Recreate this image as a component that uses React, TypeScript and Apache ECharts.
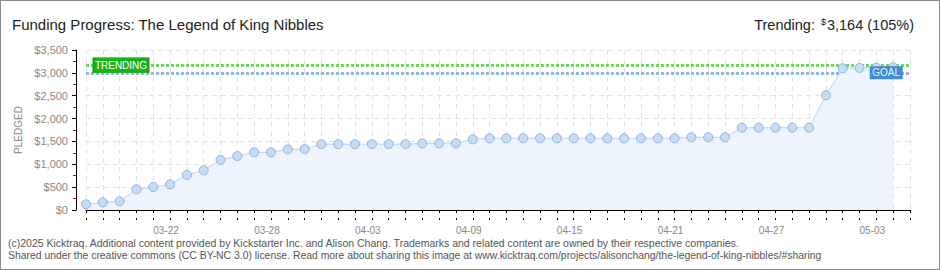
import React, { useEffect, useRef } from "react";
import * as echarts from "echarts";

const dates: string[] = [
  "03-18","03-19","03-20","03-21","03-22","03-23","03-24","03-25","03-26","03-27",
  "03-28","03-29","03-30","03-31","04-01","04-02","04-03","04-04","04-05","04-06",
  "04-07","04-08","04-09","04-10","04-11","04-12","04-13","04-14","04-15","04-16",
  "04-17","04-18","04-19","04-20","04-21","04-22","04-23","04-24","04-25","04-26",
  "04-27","04-28","04-29","04-30","05-01","05-02","05-03","05-04","05-05","05-06",
];

const pledged: number[] = [
  125, 168, 190, 452, 503, 561, 766, 868, 1094, 1181,
  1261, 1261, 1327, 1330, 1440, 1440, 1440, 1440, 1440, 1440,
  1458, 1458, 1458, 1546, 1568, 1568, 1568, 1568, 1568, 1568,
  1568, 1568, 1568, 1568, 1568, 1568, 1590, 1590, 1590, 1801,
  1801, 1801, 1801, 1801, 2509, 3100, 3108, 3114, 3120,
];

const goal = 3000;
const trending = 3164;
const trendingPct = 105;
const yTicks: number[] = [0, 500, 1000, 1500, 2000, 2500, 3000, 3500];

const titleText = "Funding Progress: The Legend of King Nibbles";
const footer1 =
  "(c)2025 Kicktraq. Additional content provided by Kickstarter Inc. and Alison Chang. Trademarks and related content are owned by their respective companies.";
const footer2 =
  "Shared under the creative commons (CC BY-NC 3.0) license. Read more about sharing this image at www.kicktraq.com/projects/alisonchang/the-legend-of-king-nibbles/#sharing";

const FONT = "'Liberation Sans', 'DejaVu Sans', sans-serif";

export default function App() {
  const ref = useRef<HTMLDivElement>(null);

  useEffect(() => {
    if (!ref.current) return;
    const chart = echarts.init(ref.current, undefined, { renderer: "svg" });
    const fmtMoney = (v: number) => "$" + v.toLocaleString("en-US");
    chart.setOption({
      animation: false,
      backgroundColor: "#ffffff",
      textStyle: { fontFamily: FONT },
      title: [
        {
          text: titleText,
          left: 7,
          top: 12,
          textStyle: { fontSize: 15, fontWeight: "normal", color: "#222", fontFamily: FONT },
        },
        {
          text: "{a|Trending: }{s|$}{a|" + trending.toLocaleString("en-US") + " (" + trendingPct + "%)}",
          right: 21,
          top: 12,
          textStyle: {
            fontFamily: FONT,
            fontWeight: "normal",
            rich: {
              a: { fontSize: 14.5, color: "#222", fontFamily: FONT, fontWeight: "normal" },
              s: { fontSize: 9, color: "#222", fontFamily: FONT, fontWeight: "normal", padding: [0, 1, 6, 2] },
            },
          },
        },
      ],
      grid: { left: 86, right: 30, top: 50, bottom: 60 },
      xAxis: [
        {
          type: "category",
          data: dates,
          boundaryGap: false,
          offset: 10,
          axisLine: { show: true, lineStyle: { color: "#000", width: 1 } },
          axisTick: { show: true, interval: 0, length: 3, lineStyle: { color: "#000" } },
          axisLabel: {
            interval: (i: number) => (i - 4) % 6 === 0 && i >= 4,
            align: "left",
            color: "#888",
            fontSize: 10,
            margin: 5,
            fontFamily: FONT,
          },
          splitLine: {
            show: true,
            interval: 0,
            lineStyle: { color: "#e2e2e2", type: [5, 4], width: 1 },
          },
        },
        {
          type: "category",
          data: dates,
          boundaryGap: false,
          position: "bottom",
          offset: 10,
          axisLine: { show: false },
          axisTick: { show: true, inside: true, interval: 0, length: 2, lineStyle: { color: "#000" } },
          axisLabel: { show: false },
          splitLine: { show: false },
        },
      ],
      yAxis: {
        type: "value",
        min: 0,
        max: 3500,
        interval: 500,
        offset: 10,
        name: "PLEDGED",
        nameLocation: "middle",
        nameGap: 52,
        nameRotate: 90,
        nameTextStyle: { color: "#888", fontSize: 10, fontFamily: FONT },
        axisLine: { show: true, lineStyle: { color: "#000", width: 1 } },
        axisTick: { show: true, length: 4, lineStyle: { color: "#000" } },
        minorTick: { show: true, splitNumber: 2, length: 3, lineStyle: { color: "#e00000" } },
        axisLabel: {
          color: "#888",
          fontSize: 11,
          margin: 8,
          fontFamily: FONT,
          formatter: (v: number) => (yTicks.includes(v) ? fmtMoney(v) : ""),
        },
        splitLine: { show: true, lineStyle: { color: "#e2e2e2", type: [5, 4], width: 1 } },
        minorSplitLine: { show: false },
      },
      series: [
        {
          type: "line",
          data: pledged,
          symbol: "circle",
          symbolSize: 9,
          showAllSymbol: true,
          lineStyle: { color: "#b9d5f2", width: 1 },
          itemStyle: { color: "#c6ddf7", borderColor: "#8fb0d6", borderWidth: 1 },
          areaStyle: { color: "#edf4fd", opacity: 1 },
          z: 2,
          markLine: {
            silent: true,
            symbol: "none",
            label: { show: false },
            z: 1,
            data: [
              { yAxis: trending, lineStyle: { color: "#72d864", width: 3, type: [3, 2] } },
              { yAxis: goal, lineStyle: { color: "#94b6e0", width: 3, type: [3, 2] } },
            ],
          },
          markPoint: {
            silent: true,
            z: 5,
            data: [
              {
                coord: [0, trending],
                symbol: "rect",
                symbolSize: [55, 15],
                symbolOffset: [35, 0],
                itemStyle: { color: "#1bb31b", borderColor: "#14a014", borderWidth: 1 },
                label: {
                  show: true,
                  formatter: "TRENDING",
                  color: "#fff",
                  fontSize: 10,
                  fontFamily: FONT,
                },
              },
              {
                coord: [48, goal],
                symbol: "rect",
                symbolSize: [33, 13],
                symbolOffset: [-7, 0],
                itemStyle: { color: "#3a86d6", opacity: 0.95 },
                label: {
                  show: true,
                  formatter: "GOAL",
                  color: "#fff",
                  fontSize: 10,
                  fontFamily: FONT,
                },
              },
            ],
          },
        },
      ],
      graphic: [
        {
          type: "text",
          left: 8,
          top: 237,
          style: { text: footer1, fill: "#555", fontSize: 10.5, fontFamily: FONT },
        },
        {
          type: "text",
          left: 8,
          top: 250,
          style: { text: footer2, fill: "#555", fontSize: 10.4, fontFamily: FONT },
        },
      ],
    });
    return () => chart.dispose();
  }, []);

  return (
    <div style={{ position: "fixed", left: 0, top: 0, width: 940, height: 270 }}>
      <div ref={ref} style={{ width: 940, height: 270 }} />
      <div
        style={{
          position: "absolute",
          left: 0,
          top: 0,
          width: 940,
          height: 270,
          boxSizing: "border-box",
          border: "1px solid #8a8a8a",
          pointerEvents: "none",
        }}
      />
    </div>
  );
}
